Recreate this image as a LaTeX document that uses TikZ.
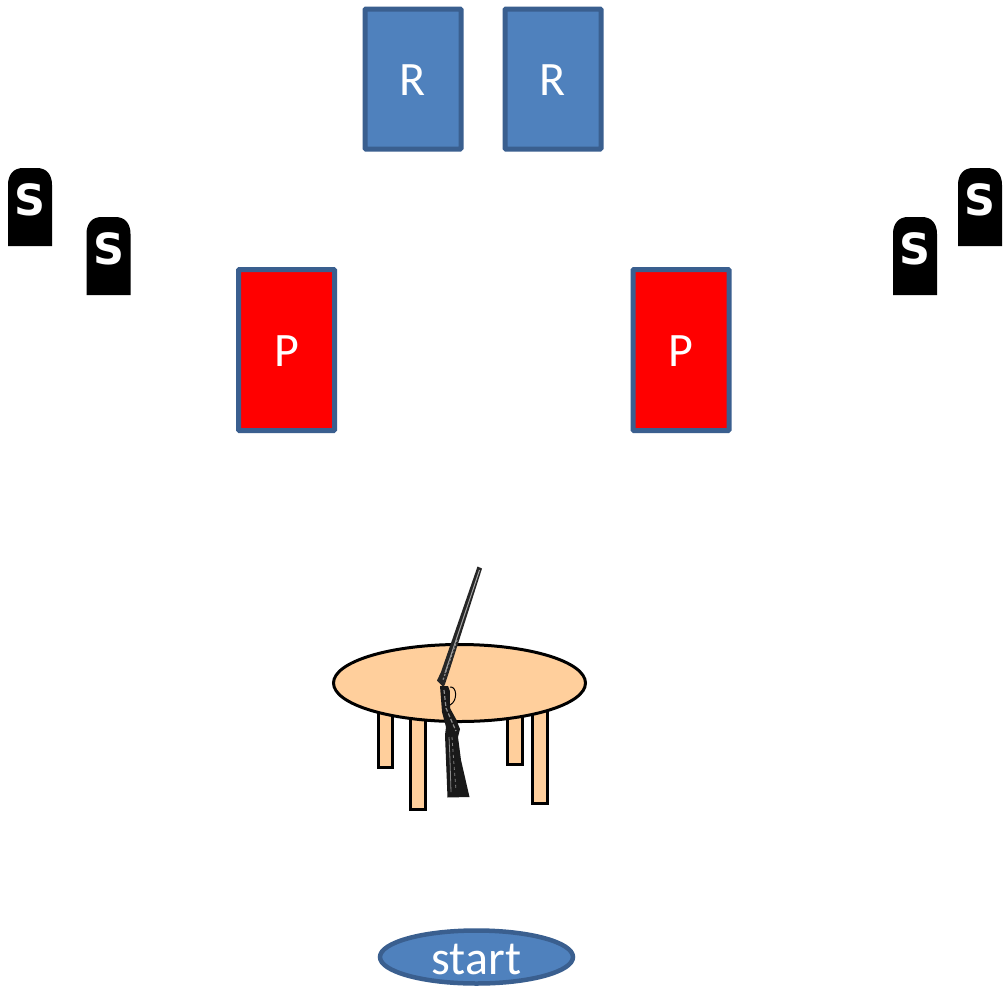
\documentclass[tikz,border=0pt]{standalone}
\usepackage{fontspec}
\setmainfont{Carlito}
\newfontfamily\stonefont{DejaVu Sans}
\usetikzlibrary{shapes.geometric}
\definecolor{boxblue}{HTML}{4F81BD}
\definecolor{boxedge}{HTML}{3A5F8F}
\definecolor{peach}{HTML}{FFCF9C}
\tikzset{
  x=1pt,y=-1pt,
  card/.style={draw=boxedge,line width=5pt,rounded corners=1pt,inner sep=0pt,
    minimum width=96pt,text=white,font=\fontsize{48}{48}\selectfont},
  rcard/.style={card,fill=boxblue,minimum height=140pt},
  pcard/.style={card,fill=red,minimum height=161pt},
  stone/.style={fill=black,draw=none},
  stoneletter/.style={text=white,inner sep=0pt,font=\stonefont\bfseries\fontsize{43}{43}\selectfont},
  leg/.style={draw=black,line width=3pt,fill=peach},
  gunline/.style={draw=black,line width=1pt},
}
\newcommand{\tombstone}[4]{%
  \fill[stone] (#1,#2+78) -- (#1,#2+17) .. controls (#1,#2+6) and (#1+6,#2) .. (#1+15,#2)
    -- (#1+29,#2) .. controls (#1+38,#2) and (#1+44,#2+6) .. (#1+44,#2+17) -- (#1+44,#2+78) -- cycle;
  \node[stoneletter] (#4) at (#1+22,#2+#3) {S};
}
\newcommand{\dropped}[2]{\smash{\raisebox{-#1pt}{#2}}}
\begin{document}
\begin{tikzpicture}
\useasboundingbox (0,0) rectangle (1005,986);
\fill[white] (0,0) rectangle (1005,986);
% cards
\node[rcard] (r1) at (413,79) {\dropped{16}{R}};
\node[rcard] (r2) at (553,79) {\dropped{16}{R}};
\node[pcard] (p1) at (286.5,350) {\dropped{16}{P}};
\node[pcard] (p2) at (681,350) {\dropped{16}{P}};
% tombstones
\tombstone{8}{168}{31.5}{s1}
\tombstone{86.5}{217}{31.5}{s2}
\tombstone{893}{217}{31.5}{s3}
\tombstone{958}{168}{31.5}{s4}
% table legs
\draw[leg] (378,700) rectangle (392,767);
\draw[leg] (410,700) rectangle (425,809);
\draw[leg] (507.5,700) rectangle (522,764);
\draw[leg] (532.5,700) rectangle (547,803);
% table top
\node[draw=black,line width=3pt,fill=peach,ellipse,inner sep=0pt,
  minimum width=252pt,minimum height=77pt] (top) at (459.5,683) {};
% gun: barrel
\fill[black!85] (477.5,566.5) -- (482,568.5) -- (449,672) -- (445,684) -- (443.5,687) -- (437,680.5) -- (441,672) -- cycle;
\draw[white!65!black,line width=1pt] (479.5,570) -- (445,673);
\draw[white!55!black,line width=1.2pt,dash pattern=on 2pt off 2pt] (457,640) -- (443,680);
% gun: action and stock
\fill[black!90] (440,686) -- (448,686) -- (451,694) -- (450,708) -- (456,719) -- (460,729)
  -- (458,737) -- (461,760) -- (469.5,797) -- (447.5,797.5) -- (445,735) -- (446,727)
  -- (442,712) -- cycle;
\draw[gunline,fill=peach] (450,687) .. controls (457,686) and (458,701) .. (450,705);
\draw[white!55!black,line width=1.2pt,dash pattern=on 4pt off 2pt] (444,690) -- (446,708) -- (452,722) -- (456,731);
\draw[white!55!black,line width=0.8pt] (449,737) -- (450,760) -- (451,792);
\draw[white!50!black,line width=0.8pt,dash pattern=on 3pt off 3pt] (452,737) -- (454,765) -- (456,790);
% start
\node[draw=boxedge,line width=4.5pt,fill=boxblue,ellipse,inner sep=0pt,minimum width=193pt,
  minimum height=53pt,text=white,font=\fontsize{48}{48}\selectfont] (start) at (476.5,957)
  {\dropped{17}{start}};
\end{tikzpicture}
\end{document}
